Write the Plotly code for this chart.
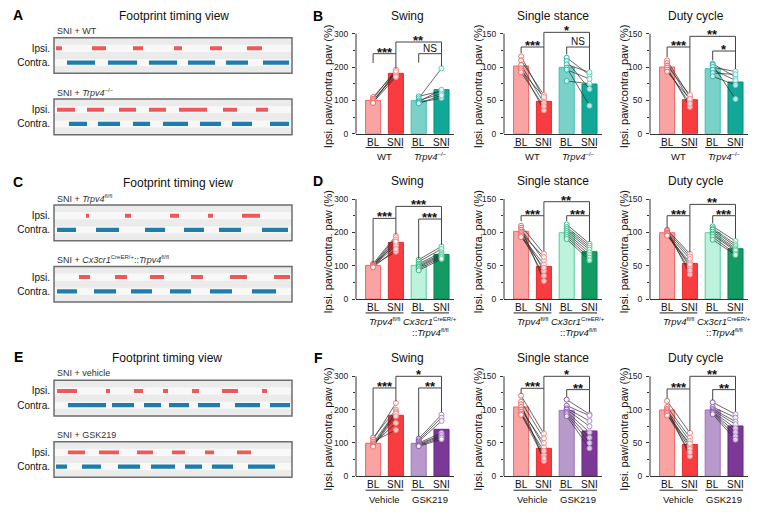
import plotly.graph_objects as go

W, H = 758, 514
FONT = "Liberation Sans, Arial, sans-serif"
AX = "#333333"


def px(x):
    return x / W


def py(y):
    return 1 - y / H


def sup(t, size=6):
    return f'<sup><span style="font-size:{size}px">{t}</span></sup>'


# ---------------- Footprint timing data (stance onset / offset, frames in a 238-frame window)
A_wt_ipsi_on = [2, 38, 79, 120, 156, 193]
A_wt_ipsi_off = [8, 52, 89, 128, 168, 208]
A_wt_contra_on = [13, 54, 95, 134, 172, 209]
A_wt_contra_off = [41, 83, 123, 161, 194, 235]
A_ko_ipsi_on = [3, 33, 65, 95, 125, 169, 202]
A_ko_ipsi_off = [21, 50, 82, 112, 153, 183, 214]
A_ko_contra_on = [15, 44, 79, 109, 146, 178, 216]
A_ko_contra_off = [33, 66, 96, 134, 167, 198, 235]

C_fl_ipsi_on = [32, 71, 116, 154, 188]
C_fl_ipsi_off = [35, 77, 125, 159, 206]
C_fl_contra_on = [3, 42, 91, 130, 165, 208]
C_fl_contra_off = [22, 65, 111, 150, 187, 234]
C_cx_ipsi_on = [25, 61, 96, 137, 176, 220]
C_cx_ipsi_off = [36, 73, 110, 149, 193, 236]
C_cx_contra_on = [3, 40, 77, 116, 156, 198]
C_cx_contra_off = [23, 62, 98, 137, 178, 222]

E_veh_ipsi_on = [3, 52, 80, 109, 138, 168, 208]
E_veh_ipsi_off = [23, 56, 89, 114, 145, 184, 213]
E_veh_contra_on = [14, 58, 90, 115, 144, 181, 216]
E_veh_contra_off = [52, 80, 107, 135, 166, 206, 236]
E_gsk_ipsi_on = [14, 45, 83, 118, 151, 183]
E_gsk_ipsi_off = [31, 65, 99, 131, 160, 197]
E_gsk_contra_on = [2, 28, 64, 97, 131, 158, 194]
E_gsk_contra_off = [13, 47, 86, 121, 148, 179, 221]

# ---------------- Gait ratio data (Ipsi. paw / contra. paw, %)
cond_labels = ["BL", "SNI", "BL", "SNI"]

# Panel B: WT vs Trpv4-/-
B_swing_mean = [100, 181, 99, 132]
B_swing_pts = [[110, 105, 101, 98, 94, 92], [186, 192, 175, 183, 170, 188],
               [112, 106, 100, 96, 93, 91], [128, 196, 120, 132, 107, 115]]
B_single_mean = [101.5, 48.5, 99.5, 74.5]
B_single_pts = [[116, 110, 103, 98, 95, 92], [52, 58, 46, 35, 55, 41],
                [114, 109, 104, 99, 96, 79], [88, 67, 92, 42, 82, 75]]
B_duty_mean = [100, 51, 97.5, 77.5]
B_duty_pts = [[110, 106, 102, 99, 96, 93], [55, 50, 58, 40, 45, 52],
              [105, 103, 100, 96, 91, 86], [85, 52, 93, 80, 89, 73]]

# Panel D: Trpv4 fl/fl vs Cx3cr1-CreER::Trpv4 fl/fl
D_swing_mean = [101, 170, 101, 134]
D_swing_pts = [[106, 104, 102, 101, 100, 99, 97, 95], [190, 165, 185, 142, 178, 160, 172, 150],
               [118, 112, 106, 102, 98, 95, 90, 86], [158, 150, 140, 135, 132, 128, 125, 120]]
D_single_mean = [101.5, 49, 99.5, 71]
D_single_pts = [[110, 107, 104, 101, 99, 97, 95, 93], [68, 27, 58, 42, 63, 35, 52, 47],
                [112, 108, 105, 102, 99, 96, 93, 90], [83, 80, 77, 74, 70, 66, 62, 58]]
D_duty_mean = [99.5, 53.5, 99.5, 75.5]
D_duty_pts = [[104, 103, 102, 100, 99, 98, 96, 95], [68, 37, 64, 48, 60, 43, 55, 52],
              [109, 106, 104, 101, 98, 96, 93, 89], [87, 82, 79, 76, 74, 72, 68, 66]]

# Panel F: vehicle vs GSK219
F_swing_mean = [99, 183, 99, 141]
F_swing_pts = [[116, 110, 104, 99, 96, 93, 91, 89], [200, 220, 139, 195, 160, 192, 188, 180],
               [113, 108, 104, 100, 97, 95, 92, 90], [185, 176, 166, 130, 124, 120, 116, 111]]
F_single_mean = [104, 42, 99, 68]
F_single_pts = [[121, 112, 108, 104, 100, 97, 94, 92], [64, 57, 23, 44, 50, 32, 27, 38],
                [115, 106, 102, 100, 97, 95, 93, 90], [93, 91, 83, 75, 66, 58, 50, 42]]
F_duty_mean = [99.5, 47.7, 99.5, 75.5]
F_duty_pts = [[113, 104, 101, 99, 97, 95, 93, 91], [65, 58, 30, 53, 45, 41, 36, 49],
              [111, 104, 101, 99, 97, 96, 95, 93], [93, 88, 82, 78, 72, 66, 60, 55]]

# Significance: [within1 level, within2 level, between level, leg bottoms x4], labels
B_swing_sig = ([240, 240, 275, 212, 197, 213, 202], ["***", "NS", "**"])
B_single_sig = ([130, 130, 152, 121, 62, 119, 96], ["***", "NS", "*"])
B_duty_sig = ([130, 124, 146, 115, 62, 110, 97], ["***", "*", "**"])
D_swing_sig = ([242, 240, 278, 110, 194, 121, 163], ["***", "***", "***"])
D_single_sig = ([125, 125, 146, 117, 72, 117, 86], ["***", "***", "**"])
D_duty_sig = ([125, 125, 142, 107, 70, 114, 91], ["***", "***", "**"])
F_swing_sig = ([265, 265, 300, 124, 225, 120, 192], ["***", "**", "*"])
F_single_sig = ([132, 130, 150, 124, 68, 119, 96], ["***", "**", "*"])
F_duty_sig = ([131, 130, 150, 117, 68, 114, 97], ["***", "**", "**"])

# ---------------- Styling
RED_BL = dict(fill="#F9A3A3", line="#F06565", pt="#F06A6A")
RED_SNI = dict(fill="#F83C40", line="#E42A2E", pt="#F88A8A")
TEAL_BL = dict(fill="#79D1C7", line="#3DBDAE", pt="#2DB8A8")
TEAL_SNI = dict(fill="#12A898", line="#0A8E80", pt="#62D2C4")
MINT_BL = dict(fill="#BDF2DD", line="#5ACB9C", pt="#36B985")
MINT_SNI = dict(fill="#129B63", line="#0B7F4F", pt="#58CF9C")
PURP_BL = dict(fill="#B799CC", line="#9B74B8", pt="#8E5DB0")
PURP_SNI = dict(fill="#7B3896", line="#652A80", pt="#B48AD2")

ROWS = [
    dict(letter="B", y0=135, styles=[RED_BL, RED_SNI, TEAL_BL, TEAL_SNI],
         groups=["WT", "<i>Trpv4</i>" + sup("–/–")], group2=None,
         charts=[(B_swing_mean, B_swing_pts, B_swing_sig),
                 (B_single_mean, B_single_pts, B_single_sig),
                 (B_duty_mean, B_duty_pts, B_duty_sig)]),
    dict(letter="D", y0=302, styles=[RED_BL, RED_SNI, MINT_BL, MINT_SNI],
         groups=["<i>Trpv4</i>" + sup("fl/fl"), "<i>Cx3cr1</i>" + sup("CreER/+")],
         group2="::<i>Trpv4</i>" + sup("fl/fl"),
         charts=[(D_swing_mean, D_swing_pts, D_swing_sig),
                 (D_single_mean, D_single_pts, D_single_sig),
                 (D_duty_mean, D_duty_pts, D_duty_sig)]),
    dict(letter="F", y0=481, styles=[RED_BL, RED_SNI, PURP_BL, PURP_SNI],
         groups=["Vehicle", "GSK219"], group2=None,
         charts=[(F_swing_mean, F_swing_pts, F_swing_sig),
                 (F_single_mean, F_single_pts, F_single_sig),
                 (F_duty_mean, F_duty_pts, F_duty_sig)]),
]
COLS = [("Swing", 356, 300, 328, 407), ("Single stance", 504, 150, 478, 553),
        ("Duty cycle", 650, 150, 624, 696)]
AXH = 101
SP = 22.8
XR = [-0.75, 3.55]
BW = 0.66

fig = go.Figure()
layout = dict(width=W, height=H, margin=dict(l=0, r=0, t=0, b=0),
              paper_bgcolor="white", plot_bgcolor="rgba(0,0,0,0)",
              showlegend=False, barmode="overlay",
              font=dict(family=FONT, size=10, color="#111"))
shapes = []
annotations = []


def axname(n, k):
    return f"{k}axis" if n == 1 else f"{k}axis{n}"


def axref(n, k):
    return k if n == 1 else f"{k}{n}"


def ann(text, x, y, size=10, xref="paper", yref="paper", xanchor="center", yanchor="middle",
        color="#111", angle=0, yshift=0):
    annotations.append(dict(text=text, x=x, y=y, xref=xref, yref=yref, xanchor=xanchor,
                            yanchor=yanchor, showarrow=False, textangle=angle, yshift=yshift,
                            font=dict(family=FONT, size=size, color=color)))


n = 0
for row in ROWS:
    y0 = row["y0"]
    ann("<b>" + row["letter"] + "</b>", px(318), py(y0 - 119), size=14, color="#000")
    for ci, (title, ax_x, ymax, ttl_x, title_x) in enumerate(COLS):
        n += 1
        means, pts, (sig, labels) = row["charts"][ci]
        st = row["styles"]
        scale = AXH / ymax
        top = ymax * 1.17
        xa, ya = axref(n, "x"), axref(n, "y")
        layout[axname(n, "x")] = dict(
            domain=[px(ax_x), px(ax_x + (XR[1] - XR[0]) * SP)], range=XR, anchor=ya,
            showticklabels=False, ticks="",
            showline=True, linecolor=AX, linewidth=1, showgrid=False, zeroline=False,
            fixedrange=True)
        step = ymax // 3
        layout[axname(n, "y")] = dict(
            domain=[py(y0), py(y0 - top * scale)], range=[0, top], anchor=xa,
            tickmode="array", tickvals=[0, step, 2 * step, 3 * step], ticks="outside",
            ticklen=3, tickwidth=1, tickcolor=AX, showline=False, showgrid=False,
            zeroline=False, tickfont=dict(size=8.5, color="#222"), ticklabelstandoff=2,
            minor=dict(tickmode="array", tickvals=[step / 2, 1.5 * step, 2.5 * step],
                       ticks="outside", ticklen=2, tickwidth=1, tickcolor=AX),
            fixedrange=True)
        shapes.append(dict(type="line", xref=f"{xa} domain", yref=ya, x0=0, x1=0, y0=0,
                           y1=ymax, line=dict(color=AX, width=1)))
        # bars
        fig.add_trace(go.Bar(x=[0, 1, 2, 3], y=means, width=BW, xaxis=xa, yaxis=ya,
                             marker=dict(color=[s["fill"] for s in st],
                                         line=dict(color=[s["line"] for s in st], width=1))))
        # paired lines
        lx, ly = [], []
        for g in (0, 2):
            for a, b in zip(pts[g], pts[g + 1]):
                lx += [g, g + 1, None]
                ly += [a, b, None]
        fig.add_trace(go.Scatter(x=lx, y=ly, mode="lines", xaxis=xa, yaxis=ya,
                                 line=dict(color="#2a2a2a", width=0.7), hoverinfo="skip"))
        for g in range(4):
            fig.add_trace(go.Scatter(
                x=[g] * len(pts[g]), y=pts[g], mode="markers", xaxis=xa, yaxis=ya,
                marker=dict(symbol="circle", size=5, color="rgba(255,255,255,0.75)",
                            line=dict(color=st[g]["pt"], width=1))))
        # condition labels under bars
        for g in range(4):
            ann(cond_labels[g], g, py(y0 + 8.5), size=10, xref=xa)
        # significance brackets
        w1, w2, lv, b0, b1, b2, b3 = sig
        brk = dict(color="#444", width=1)
        shapes.append(dict(type="path", xref=xa, yref=ya, line=brk,
                           path=f"M 0 {b0} L 0 {w1} L 1 {w1} L 1 {b1}"))
        shapes.append(dict(type="path", xref=xa, yref=ya, line=brk,
                           path=f"M 2 {b2} L 2 {w2} L 3 {w2} L 3 {b3}"))
        shapes.append(dict(type="path", xref=xa, yref=ya, line=brk,
                           path=f"M 1 {w1} L 1 {lv} L 3 {lv} L 3 {w2}"))
        for text, xx, yy in ((labels[0], 0.5, w1), (labels[1], 2.5, w2), (labels[2], 2.0, lv)):
            if text == "NS":
                ann(text, xx, yy, size=10, xref=xa, yref=ya, yanchor="bottom", yshift=-2)
            else:
                ann("<b>" + text + "</b>", xx, yy, size=13, xref=xa, yref=ya,
                    yanchor="bottom", yshift=-8)
        # group underline + labels
        for g0, gl in ((0, row["groups"][0]), (2, row["groups"][1])):
            shapes.append(dict(type="line", xref=xa, yref="paper", x0=g0 - BW / 2,
                               x1=g0 + 1 + BW / 2, y0=py(y0 + 14), y1=py(y0 + 14),
                               line=dict(color="#222", width=1)))
            ann(gl, g0 + 0.5, py(y0 + 23), size=9.5, xref=xa)
        if row["group2"]:
            ann(row["group2"], 2.5, py(y0 + 34), size=9.5, xref=xa)
        # titles
        ann(title, px(title_x), py(y0 - 119), size=12)
        ann("Ipsi. paw/contra. paw (%)", px(ttl_x), py(y0 - 48), size=11, angle=-90)

# ---------------- Footprint panels
BOXES = [
    (38, "SNI + WT", "A", 174, (A_wt_ipsi_on, A_wt_ipsi_off, A_wt_contra_on, A_wt_contra_off)),
    (100, "SNI + <i>Trpv4</i>" + sup("–/–"), None, None,
     (A_ko_ipsi_on, A_ko_ipsi_off, A_ko_contra_on, A_ko_contra_off)),
    (207, "SNI + <i>Trpv4</i>" + sup("fl/fl"), "C", 178,
     (C_fl_ipsi_on, C_fl_ipsi_off, C_fl_contra_on, C_fl_contra_off)),
    (269, "SNI + <i>Cx3cr1</i>" + sup("CreER/+") + "::<i>Trpv4</i>" + sup("fl/fl"), None, None,
     (C_cx_ipsi_on, C_cx_ipsi_off, C_cx_contra_on, C_cx_contra_off)),
    (384, "SNI + vehicle", "E", 167,
     (E_veh_ipsi_on, E_veh_ipsi_off, E_veh_contra_on, E_veh_contra_off)),
    (446, "SNI + GSK219", None, None,
     (E_gsk_ipsi_on, E_gsk_ipsi_off, E_gsk_contra_on, E_gsk_contra_off)),
]
BOX_X0, BOX_X1, BOX_H = 54, 292, 36
IPSI_RED = "#F25757"
CONTRA_BLUE = "#1D7EAD"

for top, sub_text, letter, tx, segs in BOXES:
    n += 1
    xa, ya = axref(n, "x"), axref(n, "y")
    layout[axname(n, "x")] = dict(domain=[px(BOX_X0), px(BOX_X1)], range=[0, BOX_X1 - BOX_X0],
                                  anchor=ya, showticklabels=False, ticks="", showgrid=False,
                                  zeroline=False, showline=False, fixedrange=True)
    layout[axname(n, "y")] = dict(domain=[py(top + BOX_H), py(top)], range=[0, 5], anchor=xa,
                                  tickmode="array", tickvals=[1.5, 3.5],
                                  ticktext=["Contra.", "Ipsi."], ticks="", showgrid=False,
                                  zeroline=False, showline=False, ticklabelstandoff=3,
                                  tickfont=dict(size=10, color="#111"), fixedrange=True)
    shapes.append(dict(type="rect", xref=f"{xa} domain", yref=f"{ya} domain", x0=0, x1=1,
                       y0=0, y1=1, fillcolor="#F8F8F8", line=dict(width=0), layer="below"))
    for b0 in (0, 0.4, 0.8):
        shapes.append(dict(type="rect", xref=f"{xa} domain", yref=f"{ya} domain", x0=0, x1=1,
                           y0=b0, y1=b0 + 0.2, fillcolor="#EBEBEB", line=dict(width=0),
                           layer="below"))
    shapes.append(dict(type="rect", xref=f"{xa} domain", yref=f"{ya} domain", x0=0, x1=1,
                       y0=0, y1=1, fillcolor="rgba(0,0,0,0)",
                       line=dict(color="#6E6E6E", width=1.5), layer="above"))
    ion, ioff, con, coff = segs
    fig.add_trace(go.Bar(y=[3.5] * len(ion), x=[b - a for a, b in zip(ion, ioff)], base=ion,
                         orientation="h", width=0.55, xaxis=xa, yaxis=ya,
                         marker=dict(color=IPSI_RED, line=dict(width=0))))
    fig.add_trace(go.Bar(y=[1.5] * len(con), x=[b - a for a, b in zip(con, coff)], base=con,
                         orientation="h", width=0.6, xaxis=xa, yaxis=ya,
                         marker=dict(color=CONTRA_BLUE, line=dict(width=0))))
    ann(sub_text, px(55), py(top - 7), size=9, xanchor="left", color="#333")
    if letter:
        ann("<b>" + letter + "</b>", px(18), py(top - 23), size=14, color="#000")
        ann("Footprint timing view", px(tx), py(top - 22), size=12)

layout["shapes"] = shapes
layout["annotations"] = annotations
layout["hovermode"] = False
fig.update_layout(**layout)
fig.write_html("out.html", config={"displayModeBar": False, "staticPlot": True},
               post_script="document.body.style.margin='0px';document.body.style.overflow='hidden';")
